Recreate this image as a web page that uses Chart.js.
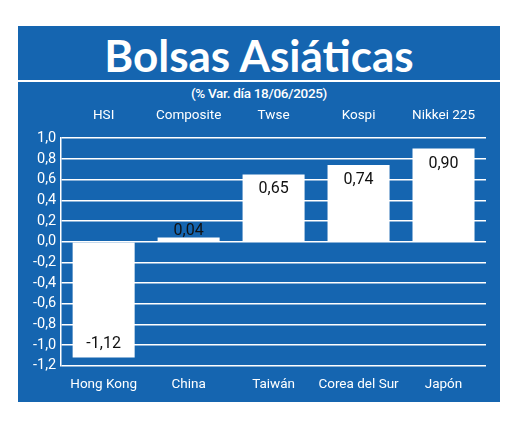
<!DOCTYPE html><html><head><meta charset="utf-8">
<script src="https://cdn.jsdelivr.net/npm/chart.js@4"></script>
<style>
body{margin:0;background:#fff;width:520px;height:421px;position:relative;font-family:Roboto,sans-serif}
#panel{position:absolute;left:18px;top:26px;width:482px;height:376px;background:#1565b0}
#title{position:absolute;left:0;width:482px;top:3px;text-align:center;color:#fff;font:bold 44px Lato,sans-serif}
#line{position:absolute;left:0;width:482px;top:54px;height:2px;background:#fff}
#sub{position:absolute;left:0;width:482px;top:59px;text-align:center;color:#fff;font:500 13.5px Roboto,sans-serif;letter-spacing:-0.3px}
#wrap{position:absolute;left:0;top:76px;width:482px;height:300px}
</style></head><body>
<div id="panel"><div id="title">Bolsas Asiáticas</div><div id="line"></div><div id="sub">(% Var. día 18/06/2025)</div>
<div id="wrap"><canvas id="c"></canvas></div></div>
<script>
const countries=["Hong Kong","China","Taiwán","Corea del Sur","Japón"];
const indices=["HSI","Composite","Twse","Kospi","Nikkei 225"];
const values=[-1.12,0.04,0.65,0.74,0.90];
const F='Roboto, sans-serif';
const fmt=v=>v.toFixed(2).replace('.',',');
const lbl={id:'lbl',afterDatasetsDraw(ch){const c=ch.ctx,m=ch.getDatasetMeta(0);c.save();c.fillStyle='#111';c.font='16px '+F;c.textAlign='center';
m.data.forEach((b,i)=>{const v=values[i];let y;if(v<0){c.textBaseline='bottom';y=b.y-6;}else if(v<0.2){c.textBaseline='bottom';y=b.y+1;}else{c.textBaseline='top';y=b.y+7;}c.fillText(fmt(v),b.x,y);});c.restore();}};
new Chart(document.getElementById('c'),{type:'bar',data:{labels:countries,datasets:[{data:values,backgroundColor:'#fff',categoryPercentage:0.73,barPercentage:1}]},
plugins:[lbl],
options:{responsive:true,maintainAspectRatio:false,animation:false,layout:{padding:{left:10,right:14,top:0,bottom:6}},
plugins:{legend:{display:false},tooltip:{enabled:false}},
scales:{x:{grid:{display:false},border:{display:false},ticks:{color:'#fff',font:{family:F,size:13.5},padding:3,maxRotation:0,autoSkip:false}},
x2:{position:'top',labels:indices,grid:{display:false},border:{display:false},ticks:{color:'#fff',font:{family:F,size:13.5},padding:6,maxRotation:0,autoSkip:false}},
y:{min:-1.2,max:1.0,ticks:{stepSize:0.2,autoSkip:false,color:'#fff',font:{family:F,size:14.5},padding:5,callback:v=>v.toFixed(1).replace('.',',')},grid:{color:'#fff',lineWidth:1.5,drawTicks:false},border:{color:'#fff',width:1.5}}}}});
</script></body></html>
